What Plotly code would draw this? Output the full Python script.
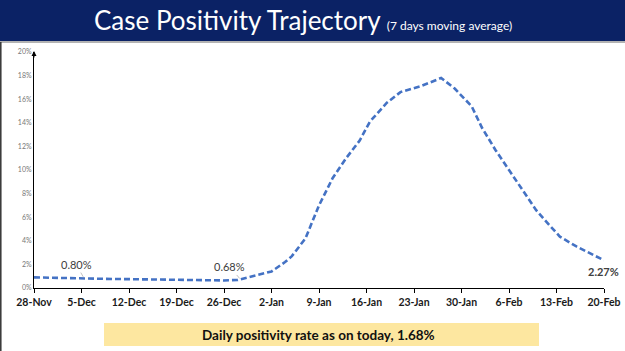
import plotly.graph_objects as go
import pandas as pd

start = pd.Timestamp("2021-11-28")
day_offsets = [0, 3, 7, 10, 14, 17, 21, 24, 28, 30, 32, 35, 37, 38, 40, 42, 44, 46, 48, 49.5,
               52, 54, 57, 60, 62, 64.5, 66, 68, 70, 72, 74, 76, 77.5, 80, 82, 84]
positivity = [0.90, 0.85, 0.80, 0.78, 0.75, 0.72, 0.68, 0.62, 0.64, 0.68, 0.95, 1.40, 2.20, 2.70,
              4.20, 7.00, 9.30, 11.0, 12.5, 14.1, 15.7, 16.6, 17.1, 17.8, 16.9, 15.4, 13.6,
              11.7, 10.0, 8.3, 6.6, 5.3, 4.35, 3.5, 2.9, 2.35]
dates = [start + pd.Timedelta(days=d) for d in day_offsets]

tick_dates = [start + pd.Timedelta(days=7 * i) for i in range(13)]
tick_labels = ["28-Nov", "5-Dec", "12-Dec", "19-Dec", "26-Dec", "2-Jan", "9-Jan",
               "16-Jan", "23-Jan", "30-Jan", "6-Feb", "13-Feb", "20-Feb"]
y_ticks = [0, 2, 4, 6, 8, 10, 12, 14, 16, 18, 20]

W, H = 625, 351
def px(x): return x / W
def py(y): return 1 - y / H

fig = go.Figure()
fig.add_trace(go.Scatter(x=dates, y=positivity, mode="lines",
                         line=dict(color="#4472C4", width=2.6, dash="6px,3px"),
                         hoverinfo="skip", showlegend=False))

fig.update_layout(
    width=W, height=H, margin=dict(l=0, r=0, t=0, b=0, autoexpand=False),
    paper_bgcolor="white", plot_bgcolor="white",
    font=dict(family="Lato, Open Sans, sans-serif"),
    xaxis=dict(domain=[px(34), px(604)], type="date", automargin=False,
               range=[start, start + pd.Timedelta(days=84)],
               tickvals=tick_dates, ticktext=tick_labels,
               tickfont=dict(size=10.5, color="#1a1a1a", family="Lato, sans-serif", weight=700),
               ticks="outside", ticklen=4, tickcolor="black", showgrid=False,
               showline=True, linecolor="black", linewidth=1, zeroline=False),
    yaxis=dict(domain=[py(288), py(52)], range=[0, 20], tickvals=y_ticks, automargin=False,
               ticktext=[f"{v}%" for v in y_ticks],
               tickfont=dict(size=7, color="#777777"), ticks="", showgrid=False,
               showline=True, linecolor="black", linewidth=1, zeroline=False),
)

# header band
fig.add_shape(type="rect", xref="paper", yref="paper", x0=0, x1=1, y0=py(41), y1=1,
              fillcolor="#0b2265", line=dict(width=0), layer="below")
fig.add_shape(type="line", xref="paper", yref="paper", x0=0, x1=1, y0=py(42), y1=py(42),
              line=dict(color="#9a9a9a", width=1.5))
fig.add_shape(type="line", xref="paper", yref="paper", x0=px(0.8), x1=px(0.8), y0=0, y1=py(42),
              line=dict(color="#333333", width=1.5))
fig.add_annotation(xref="paper", yref="paper", x=px(303), y=py(20.5), showarrow=False,
                   xanchor="center", yanchor="middle",
                   text="Case Positivity Trajectory <span style='font-size:12px'>(7 days moving average)</span>",
                   font=dict(size=26, color="white", family="Lato, sans-serif"))

# y-axis arrow head
fig.add_annotation(xref="paper", yref="paper", x=px(34), y=py(51), ax=0, ay=8,
                   showarrow=True, arrowhead=2, arrowsize=1,
                   arrowwidth=1, arrowcolor="black", text="")

# data labels
lab_font = dict(size=11, color="#404040", family="Lato, sans-serif")
fig.add_annotation(x=start + pd.Timedelta(days=7.4), y=0.80, text="0.80%", showarrow=True,
                   ax=-8, ay=-14, arrowhead=0, arrowwidth=0.6, arrowcolor="#999999",
                   standoff=2, font=lab_font)
fig.add_annotation(x=start + pd.Timedelta(days=30.5), y=0.68, text="0.68%", showarrow=True,
                   ax=-11, ay=-13, arrowhead=0, arrowwidth=0.6, arrowcolor="#999999",
                   standoff=2, font=lab_font)
fig.add_annotation(xref="paper", yref="paper", x=px(603), y=py(271), text="<b>2.27%</b>",
                   xanchor="center", yanchor="middle",
                   showarrow=False, font=dict(size=11, color="#404040", family="Lato, sans-serif"))

# yellow box
fig.add_shape(type="rect", xref="paper", yref="paper", x0=px(104), x1=px(539), y0=py(346), y1=py(323),
              fillcolor="#fde7a0", line=dict(width=0))
fig.add_annotation(xref="paper", yref="paper", x=px(318), y=py(334.5), showarrow=False,
                   xanchor="center", yanchor="middle",
                   text="<b>Daily positivity rate as on today, 1.68%</b>",
                   font=dict(size=13.5, color="#111111", family="Lato, sans-serif"))

fig.write_html("out.html")
